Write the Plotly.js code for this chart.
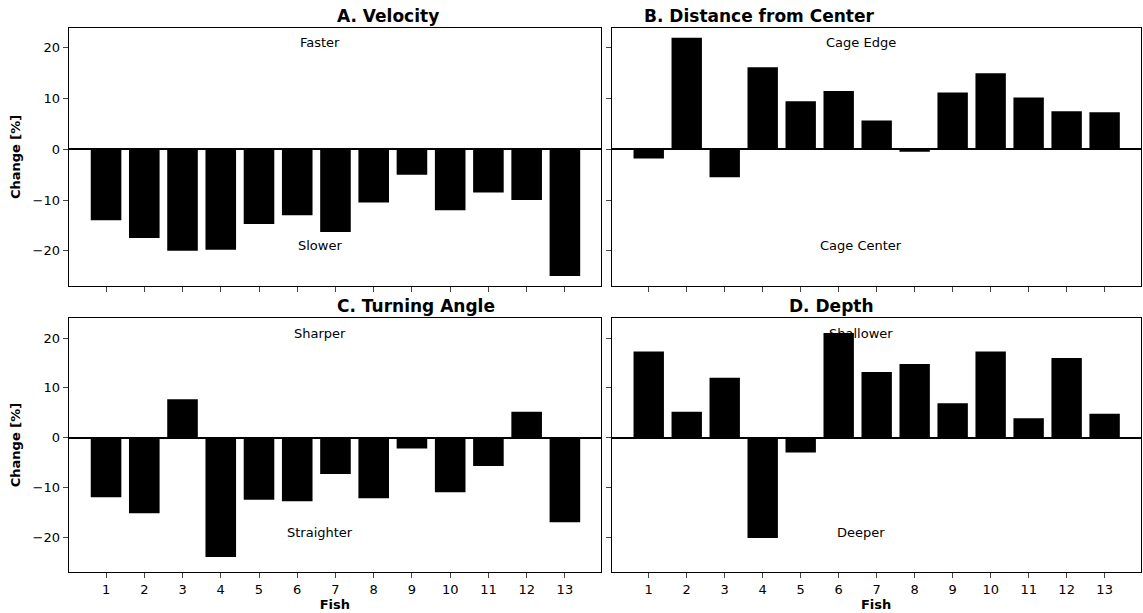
<!DOCTYPE html>
<html><head><meta charset="utf-8">
<script src="https://cdn.plot.ly/plotly-3.0.1.min.js"></script>
<style>body{margin:0}</style></head>
<body><div id="chart" style="width:1143px;height:613px"></div>
<script>
const fish = [1,2,3,4,5,6,7,8,9,10,11,12,13];
const velocity = [-14,-17.5,-20,-19.8,-14.7,-13,-16.3,-10.5,-5,-12,-8.5,-10,-25];
const distance = [-1.8,22,-5.5,16.2,9.5,11.5,5.7,-0.5,11.2,15,10.2,7.5,7.3];
const turning = [-12,-15.2,7.7,-24,-12.5,-12.8,-7.3,-12.2,-2.2,-11,-5.7,5.2,-17];
const depth = [17.3,5.2,12,-20.2,-3,21,13.2,14.8,6.9,17.3,3.9,16,4.8];

const panels = [
  {y: velocity, title: 'A. Velocity', up: 'Faster', down: 'Slower'},
  {y: distance, title: 'B. Distance from Center', up: 'Cage Edge', down: 'Cage Center'},
  {y: turning, title: 'C. Turning Angle', up: 'Sharper', down: 'Straighter'},
  {y: depth, title: 'D. Depth', up: 'Shallower', down: 'Deeper'}
];
const xdom = [[0.06,0.526],[0.535,0.998]];
const ydom = [[0.533,0.955],[0.067,0.481]];
const font = {family: 'DejaVu Sans', size: 13, color: 'black'};

var data = [], layout = {
  width: 1143, height: 613, margin: {l:0,r:0,t:0,b:0},
  showlegend: false, plot_bgcolor: 'white', paper_bgcolor: 'white',
  font: font, annotations: []
};
panels.forEach(function(p, i) {
  var n = i + 1, col = i % 2, row = Math.floor(i / 2);
  var xa = n === 1 ? 'x' : 'x' + n, ya = n === 1 ? 'y' : 'y' + n;
  data.push({type: 'bar', x: fish, y: p.y, xaxis: xa, yaxis: ya,
    marker: {color: 'black'}, width: 0.8});
  var ax = {domain: xdom[col], anchor: ya, range: [0.02, 13.95], tickvals: fish,
    showticklabels: row === 1, ticks: 'outside', ticklen: 5, showline: true,
    linecolor: 'black', mirror: true, showgrid: false, zeroline: false, tickfont: font};
  if (row === 1) ax.title = {text: '<b>Fish</b>', font: font, standoff: 2};
  var ay = {domain: ydom[row], anchor: xa, range: [-27, 24], tickvals: [-20,-10,0,10,20],
    showticklabels: col === 0, ticks: 'outside', ticklen: 5, showline: true,
    linecolor: 'black', mirror: true, showgrid: false, zeroline: true,
    zerolinecolor: 'black', zerolinewidth: 1.5, tickfont: font};
  if (col === 0) ay.title = {text: '<b>Change [%]</b>', font: font, standoff: 8};
  layout[n === 1 ? 'xaxis' : 'xaxis' + n] = ax;
  layout[n === 1 ? 'yaxis' : 'yaxis' + n] = ay;
  var xc = (xdom[col][0] + xdom[col][1]) / 2;
  layout.annotations.push({text: '<b>' + p.title + '</b>', xref: 'paper', yref: 'paper',
    x: xc, y: ydom[row][1], yanchor: 'bottom', showarrow: false,
    font: {family: 'DejaVu Sans', size: 17, color: 'black'}});
  layout.annotations.push({text: p.up, xref: xa, yref: ya, x: 6.6, y: 21, showarrow: false, font: font});
  layout.annotations.push({text: p.down, xref: xa, yref: ya, x: 6.6, y: -19, showarrow: false, font: font});
});
Plotly.newPlot('chart', data, layout, {displayModeBar: false});
</script></body></html>
